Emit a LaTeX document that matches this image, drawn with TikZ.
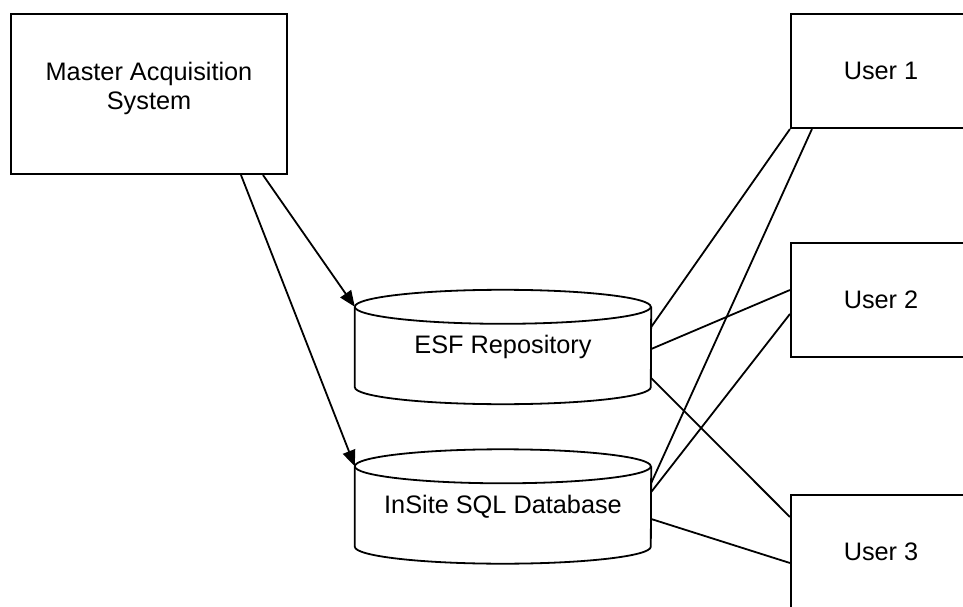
\documentclass[tikz,border=0pt]{standalone}
\usepackage{fontspec}
\setmainfont{Liberation Sans}
\usetikzlibrary{arrows.meta}
\begin{document}
\begin{tikzpicture}[x=1pt,y=1pt,
  every node/.style={font=\fontsize{25.3}{29}\selectfont, inner sep=0pt},
  box/.style={draw, line width=2.1pt, rectangle},
  cylnode/.style={rectangle, minimum width=296pt, minimum height=114pt},
  cylline/.style={line width=1.8pt},
  link/.style={line width=1.8pt},
  arr/.style={line width=1.8pt, -{Triangle[length=16pt,width=13pt]}}
]
\useasboundingbox (0,0) rectangle (963,606);
\begin{scope}
\clip (0,0) rectangle (963,606);
% boxes
\node[box, minimum width=276pt, minimum height=160pt] (mas) at (149,512) {};
\node[align=center] (mastxt) at (149,518) {Master Acquisition\\System};
\node[box, minimum width=180pt, minimum height=114pt] (u1) at (881,535) {User 1};
\node[box, minimum width=180pt, minimum height=114pt] (u2) at (881,306) {User 2};
\node[box, minimum width=180pt, minimum height=114pt] (u3) at (881,54) {User 3};
% cylinders
\node[cylnode] (esf) at (503,259) {ESF Repository};
\node[cylnode] (ins) at (503,99.5) {InSite SQL Database};
\foreach \c in {esf,ins}{
  \draw[cylline] ([yshift=-17pt]\c.north west) arc[start angle=180, end angle=540, x radius=148pt, y radius=17pt];
  \draw[cylline] ([yshift=-17pt]\c.north west) -- ([yshift=17pt]\c.south west)
     arc[start angle=180, end angle=360, x radius=148pt, y radius=17pt]
     -- ([yshift=-17pt]\c.north east);
}
% arrows
\draw[arr] ([xshift=114pt]mas.south) -- ([yshift=-17pt]esf.north west);
\draw[arr] ([xshift=92pt]mas.south) -- ([yshift=-17pt]ins.north west);
% links
\draw[link] ([yshift=20pt]esf.east) -- (u1.south west);
\draw[link] ([yshift=-2pt]esf.east) -- ([yshift=10pt]u2.west);
\draw[link] ([yshift=-31pt]esf.east) -- ([yshift=35pt]u3.west);
\draw[link] ([yshift=23.5pt]ins.east) -- ([xshift=22pt]u1.south west);
\draw[link] ([yshift=14.5pt]ins.east) -- ([yshift=-14pt]u2.west);
\draw[link] ([yshift=-12.5pt]ins.east) -- ([yshift=-11pt]u3.west);
\end{scope}
\end{tikzpicture}
\end{document}
